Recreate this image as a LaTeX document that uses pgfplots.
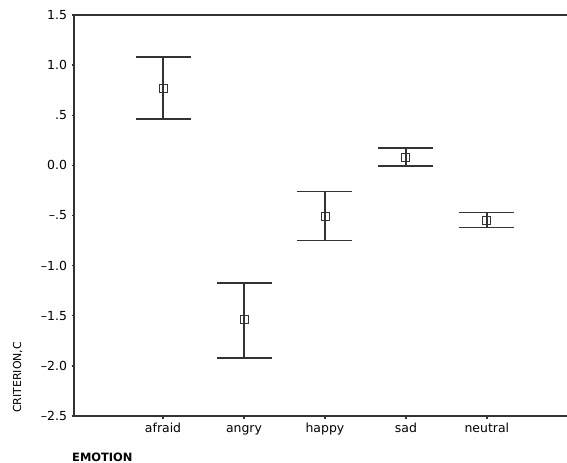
\documentclass[border=0pt]{standalone}
\usepackage{fontspec}
\setmainfont{DejaVu Sans}
\usepackage{pgfplots}
\usepackage{pgfplotstable}
\pgfplotsset{compat=1.18}
\pgfplotstableread{
x y ep em
1 0.77 0.31 0.31
2 -1.54 0.37 0.38
3 -0.51 0.25 0.24
4 0.08 0.09 0.09
5 -0.55 0.08 0.07
}\datatable
\definecolor{ln}{HTML}{333333}
\begin{document}
\begin{tikzpicture}
\begin{axis}[
  name=ax,
  scale only axis,
  width=493bp, height=401bp,
  xmin=-0.1, xmax=5.99,
  ymin=-2.5, ymax=1.5,
  axis x line=box, axis y line=left,
  axis line style={-, draw=ln, line width=1.3bp},
  xtick={1,2,3,4,5},
  xticklabels={afraid,angry,happy,sad,neutral},
  ytick={-2.5,-2,-1.5,-1,-0.5,0,0.5,1,1.5},
  yticklabels={\textendash2.5,\textendash2.0,\textendash1.5,\textendash1.0,\textendash.5,0.0,.5,1.0,1.5},
  xtick pos=bottom, ytick pos=left,
  tick align=outside,
  major tick length=2.5bp,
  tick style={draw=ln, line width=1.3bp},
  x tick label style={font=\fontsize{12.5}{14}\selectfont, text height=9.5bp, text depth=2.5bp, yshift=-1bp},
  y tick label style={font=\fontsize{12.5}{14}\selectfont, xshift=-1bp},
]
\addplot[draw=none, mark=none,
  error bars/.cd, y dir=both, y explicit,
  error bar style={draw=ln, line width=1.8bp},
  error mark options={rotate=90, mark size=27.5bp, draw=ln, line width=1.8bp}]
  table[x=x, y=y, y error plus=ep, y error minus=em] {\datatable};
\addplot[only marks, mark=square, mark size=4bp, mark options={draw=ln, line width=0.9bp, fill=none}]
  table[x=x, y=y] {\datatable};
\end{axis}
\node[font=\bfseries\fontsize{11.5}{13}\selectfont, anchor=south west, inner sep=0pt]
  at ([xshift=-2bp, yshift=-46bp]ax.south west) {EMOTION};
\node[font=\fontsize{11}{13}\selectfont, rotate=90, anchor=base west, inner sep=0pt]
  at ([xshift=-53bp, yshift=3bp]ax.south west) {CRITERION,C};
\pgfresetboundingbox
\path[use as bounding box] ([xshift=-74bp, yshift=-47bp]ax.south west) rectangle ([yshift=15bp]ax.north east);
\end{tikzpicture}
\end{document}
